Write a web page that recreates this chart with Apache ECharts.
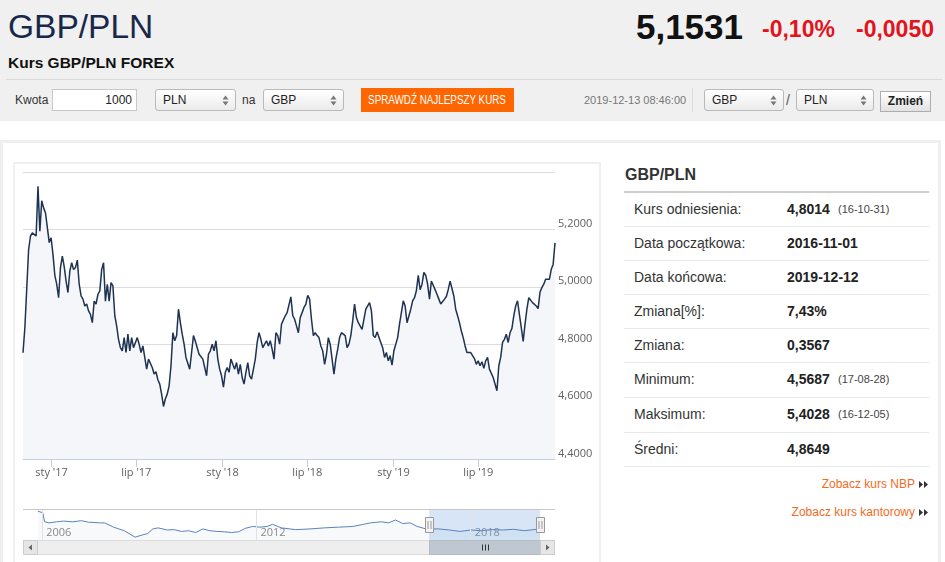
<!DOCTYPE html>
<html><head><meta charset="utf-8">
<script src="https://cdn.jsdelivr.net/npm/echarts@6/dist/echarts.min.js"></script>
<style>
html,body{margin:0;padding:0;width:945px;height:562px;overflow:hidden;background:#fff;font-family:'Liberation Sans',Arial,sans-serif;}
.a{position:absolute;white-space:nowrap;}
.sel{position:absolute;top:89px;height:22px;border:1px solid #b9b9b9;border-radius:3px;background:linear-gradient(#ffffff,#ebebeb);font-size:12px;color:#222;line-height:20px;box-sizing:border-box;padding-left:7px;}
.sel svg{position:absolute;right:6px;top:5px;}
.row{position:absolute;left:624px;width:305px;border-bottom:1px solid #e9e9e9;box-sizing:border-box;}
.lab{position:absolute;left:10px;font-size:14px;color:#333;}
.val{position:absolute;left:163px;font-size:14px;font-weight:bold;color:#222;}
.dt{position:absolute;left:214px;font-size:11px;color:#444;}
.lnk{position:absolute;right:30px;font-size:12px;color:#f26b1d;white-space:nowrap;}
.ico{position:absolute;right:16px;}
</style>
</head><body>
<div class="a" style="left:0;top:0;width:945px;height:121px;background:#f0f0f0"></div>
<div class="a" style="left:8px;top:9px;font-size:33.5px;line-height:35px;color:#17284a">GBP/PLN</div>
<div class="a" style="right:202px;top:9px;font-size:35px;line-height:35px;font-weight:bold;color:#111">5,1531</div>
<div class="a" style="left:762px;top:18px;font-size:23px;line-height:23px;font-weight:bold;color:#e3131e">-0,10%</div>
<div class="a" style="right:11px;top:18px;font-size:23px;line-height:23px;font-weight:bold;color:#e3131e">-0,0050</div>
<div class="a" style="left:8px;top:55px;font-size:15.5px;line-height:16px;font-weight:bold;color:#111">Kurs GBP/PLN FOREX</div>
<div class="a" style="left:6px;top:79px;width:936px;height:1px;background:#d9d9d9"></div>

<div class="a" style="left:15px;top:89px;line-height:22px;font-size:12px;color:#333">Kwota</div>
<div class="a" style="left:52px;top:89px;width:85px;height:22px;border:1px solid #c8c8c8;box-sizing:border-box;background:#fff;font-size:12px;line-height:20px;text-align:right;padding-right:4px;color:#222">1000</div>
<div class="sel" style="left:155px;width:81px">PLN<svg width="7" height="11"><path d="M0.5 4.5 L3.5 0.5 L6.5 4.5Z M0.5 6.5 L3.5 10.5 L6.5 6.5Z" fill="#777"/></svg></div>
<div class="a" style="left:242px;top:89px;line-height:22px;font-size:12px;color:#333">na</div>
<div class="sel" style="left:263px;width:81px">GBP<svg width="7" height="11"><path d="M0.5 4.5 L3.5 0.5 L6.5 4.5Z M0.5 6.5 L3.5 10.5 L6.5 6.5Z" fill="#777"/></svg></div>
<div class="a" style="left:361px;top:88px;width:153px;height:24px;background:#ff6600;overflow:hidden;text-align:center"><span style="display:inline-block;color:#fff;font-size:12px;line-height:24px;transform:scaleX(0.82);transform-origin:center;margin:0 -20px">SPRAWDŹ NAJLEPSZY KURS</span></div>
<div class="a" style="left:584px;top:89px;line-height:22px;font-size:11px;color:#777">2019-12-13 08:46:00</div>
<div class="a" style="left:692px;top:88px;width:1px;height:24px;background:#dcdcdc"></div>
<div class="sel" style="left:704px;width:80px">GBP<svg width="7" height="11"><path d="M0.5 4.5 L3.5 0.5 L6.5 4.5Z M0.5 6.5 L3.5 10.5 L6.5 6.5Z" fill="#777"/></svg></div>
<div class="a" style="left:786px;top:89px;line-height:22px;font-size:14px;color:#555">/</div>
<div class="sel" style="left:796px;width:78px">PLN<svg width="7" height="11"><path d="M0.5 4.5 L3.5 0.5 L6.5 4.5Z M0.5 6.5 L3.5 10.5 L6.5 6.5Z" fill="#777"/></svg></div>
<div class="a" style="left:880px;top:91px;width:51px;height:21px;border:1px solid #adadad;box-sizing:border-box;background:linear-gradient(#ffffff,#e2e2e2);font-size:12px;font-weight:bold;line-height:19px;text-align:center;color:#222">Zmień</div>

<div class="a" style="left:0;top:140px;width:941px;height:440px;border:3px solid #efefef;box-sizing:border-box"></div>
<div class="a" style="left:13px;top:162px;width:588px;height:420px;border:2px solid #f0f0f0;box-sizing:border-box"></div>

<div class="a" style="left:625px;top:166px;font-size:16px;line-height:18px;font-weight:bold;color:#333">GBP/PLN</div>
<div class="a" style="left:624px;top:191px;width:305px;height:2px;background:#cfcfcf"></div>
<div id="tbl"></div>
<div class="lnk" style="top:477px">Zobacz kurs NBP</div>
<svg class="ico" style="top:481px" width="10" height="7"><path d="M0 0 L4 3.5 L0 7Z M5 0 L9 3.5 L5 7Z" fill="#333"/></svg>
<div class="lnk" style="top:505px">Zobacz kurs kantorowy</div>
<svg class="ico" style="top:509px" width="10" height="7"><path d="M0 0 L4 3.5 L0 7Z M5 0 L9 3.5 L5 7Z" fill="#333"/></svg>

<div id="chart" style="position:absolute;left:0;top:0;width:945px;height:562px"></div>
<script>
// ---- main series (GBP/PLN, sampled every 4 days from 2016-11-01) ----
const rateValues = [
4.770,4.858,4.864,5.130,5.177,5.188,5.190,5.177,5.350,5.194,
5.300,5.275,5.258,5.206,5.154,5.171,5.113,5.040,5.009,4.962,
5.067,5.107,5.070,5.020,4.980,5.055,5.084,5.060,5.067,5.093,
5.009,4.968,4.957,4.933,4.940,4.916,4.904,4.875,4.950,4.940,
4.974,4.986,5.060,5.084,4.950,5.009,4.950,5.015,5.003,4.900,
4.864,4.817,4.788,4.777,4.823,4.771,4.835,4.777,4.823,4.788,
4.783,4.823,4.800,4.771,4.794,4.754,4.713,4.748,4.748,4.719,
4.696,4.704,4.676,4.661,4.626,4.583,4.610,4.626,4.655,4.725,
4.840,4.812,4.830,4.922,4.875,4.835,4.800,4.754,4.760,4.713,
4.771,4.830,4.810,4.806,4.765,4.771,4.748,4.742,4.690,4.765,
4.777,4.800,4.777,4.812,4.748,4.713,4.690,4.650,4.702,4.719,
4.702,4.748,4.730,4.713,4.736,4.696,4.730,4.684,4.661,4.702,
4.736,4.690,4.678,4.713,4.748,4.806,4.840,4.817,4.788,4.800,
4.812,4.794,4.812,4.783,4.748,4.840,4.830,4.800,4.870,4.864,
4.899,4.910,4.910,4.965,4.900,4.887,4.864,4.840,4.893,4.910,
4.928,4.940,4.970,4.957,4.887,4.830,4.840,4.830,4.823,4.794,
4.777,4.730,4.765,4.823,4.800,4.748,4.696,4.748,4.783,4.823,
4.840,4.835,4.830,4.788,4.800,4.830,4.881,4.940,4.893,4.875,
4.881,4.852,4.852,4.922,4.928,4.945,4.916,4.830,4.823,4.843,
4.846,4.806,4.788,4.754,4.771,4.742,4.760,4.727,4.777,4.783,
4.823,4.870,4.873,4.951,4.933,4.875,4.875,4.922,4.951,4.962,
4.986,5.040,4.990,5.009,5.050,5.040,5.009,4.957,5.020,5.020,
4.990,4.974,4.957,4.940,4.940,4.957,4.966,4.990,5.020,4.994,
4.968,4.922,4.899,4.875,4.846,4.823,4.794,4.771,4.774,4.771,
4.771,4.750,4.730,4.742,4.725,4.739,4.716,4.742,4.754,4.713,
4.707,4.684,4.680,4.638,4.725,4.754,4.806,4.817,4.835,4.806,
4.840,4.855,4.899,4.933,4.951,4.904,4.858,4.810,4.870,4.922,
4.962,4.962,4.945,4.945,4.933,4.924,4.982,4.997,5.009,5.026,
5.020,5.026,5.061,5.078,5.153
];
const startYear = 2016, startMonth = 10, startDay = 1, stepDays = 4;
function ymd(d){return d.getFullYear()+'-'+String(d.getMonth()+1).padStart(2,'0')+'-'+String(d.getDate()).padStart(2,'0');}
const rateDates = rateValues.map((v,i)=>ymd(new Date(startYear,startMonth,startDay+i*stepDays)));
const axisStart = '2016-11-01', axisEnd = '2019-12-12';
const tickDates = ['2017-01-01','2017-07-01','2018-01-01','2018-07-01','2019-01-01','2019-07-01'];
const tickLabels = ["sty '17","lip '17","sty '18","lip '18","sty '19","lip '19"];
const yMin = 4.4, yMax = 5.4, yStep = 0.2;

// ---- navigator series ----
const navDates = ['2005-11-18','2006-01-08','2006-01-26','2006-03-14','2006-05-27','2006-08-08','2006-11-07','2007-02-06','2007-04-20','2007-08-08',
'2007-10-01','2008-01-01','2008-04-20','2008-08-08','2008-10-20','2008-12-14','2009-02-06','2009-04-01','2009-07-02','2009-09-13',
'2009-11-25','2010-02-06','2010-04-20','2010-07-02','2010-09-13','2010-11-25','2011-02-06','2011-04-20','2011-07-02','2011-09-13',
'2011-11-25','2012-02-06','2012-04-20','2012-06-14','2012-09-13','2013-02-06','2013-07-02','2013-11-25','2014-04-20','2014-09-13',
'2015-01-01','2015-03-14','2015-07-02','2015-09-13','2015-11-25','2016-02-06','2016-04-20','2016-07-02','2016-10-01','2017-02-06',
'2017-05-27','2017-09-13','2018-01-01','2018-04-20','2018-08-08','2018-11-25','2019-03-14','2019-07-02','2019-11-07','2019-12-12'];
const navValues = [6.066,5.951,5.375,5.306,5.375,5.421,5.375,5.444,5.352,5.306,
5.306,5.029,4.799,4.384,4.523,4.615,4.914,4.983,4.845,4.868,
4.753,4.799,4.684,4.914,4.799,4.753,4.730,4.684,4.730,4.960,
5.075,5.029,5.075,5.213,4.983,4.868,4.914,4.983,5.029,5.075,
5.213,5.306,5.375,5.306,5.490,5.260,5.306,5.075,4.914,4.914,
4.845,4.753,4.845,4.799,4.868,4.845,4.891,4.799,4.891,4.910];
const navTickDates = ['2006-01-01','2012-01-01','2018-01-01'];
const navTickLabels = ['2006','2012','2018'];
const navStart = '2005-06-19', navEnd = '2020-05-12';
const navYMin = 4.2, navYMax = 6.2;

// ---- statistics table ----
const statLabels = ['Kurs odniesienia:','Data początkowa:','Data końcowa:','Zmiana[%]:','Zmiana:','Minimum:','Maksimum:','Średni:'];
const statValues = ['4,8014','2016-11-01','2019-12-12','7,43%','0,3567','4,5687','5,4028','4,8649'];
const statDates = ['(16-10-31)','','','','','(17-08-28)','(16-12-05)',''];

const rowTops = [193,226,260,294,328,362,397,432];
const tbl = document.getElementById('tbl');
statLabels.forEach((l,i)=>{
  const top = rowTops[i], h = (i<7?rowTops[i+1]:466) - top + 1;
  const r = document.createElement('div');
  r.className='row'; r.style.top=top+'px'; r.style.height=h+'px';
  const lh = (h-1)+'px';
  r.innerHTML = '<div class="lab" style="line-height:'+lh+'">'+l+'</div><div class="val" style="line-height:'+lh+'">'+statValues[i]+'</div>'+
    (statDates[i]?'<div class="dt" style="line-height:'+lh+'">'+statDates[i]+'</div>':'');
  tbl.appendChild(r);
});

function toTime(s){const p=s.split('-').map(Number);return new Date(p[0],p[1]-1,p[2]).getTime();}
const tickTimes = tickDates.map(toTime);
const navTickTimes = navTickDates.map(toTime);
function nearestLabel(val, times, labels){let b=0;times.forEach((t,i)=>{if(Math.abs(t-val)<Math.abs(times[b]-val))b=i;});return labels[b];}

const G = {left:23, top:172, width:532, height:287};
const N = {left:23, top:509, width:532, height:31};

const chart = echarts.init(document.getElementById('chart'));
chart.setOption({
  animation:false,
  grid:[{left:G.left, top:G.top, width:G.width, height:G.height},{left:N.left, top:N.top, width:N.width, height:N.height}],
  xAxis:[
    {type:'value', gridIndex:0, min:toTime(axisStart), max:toTime(axisEnd),
     axisLine:{lineStyle:{color:'#c0d0e0'}},
     axisTick:{customValues:tickTimes, length:8, lineStyle:{color:'#c0d0e0'}},
     axisLabel:{customValues:tickTimes, formatter:v=>nearestLabel(v,tickTimes,tickLabels), color:'#606060', fontSize:11, fontFamily:'Open Sans', margin:8},
     splitLine:{show:false}},
    {type:'value', gridIndex:1, min:toTime(navStart), max:toTime(navEnd),
     axisLine:{show:false}, axisTick:{show:false, customValues:navTickTimes}, splitLine:{show:false},
     axisLabel:{customValues:navTickTimes, inside:true, formatter:v=>nearestLabel(v,navTickTimes,navTickLabels), align:'left', padding:[0,0,0,4], color:'#8a8a8a', fontSize:11, fontFamily:'Open Sans', margin:2}}
  ],
  yAxis:[
    {type:'value', gridIndex:0, position:'right', min:yMin, max:yMax, interval:yStep,
     axisLine:{show:false}, axisTick:{show:false},
     splitLine:{lineStyle:{color:'#dcdcdc'}},
     axisLabel:{formatter:v=>Math.abs(v-yMax)<1e-6?'':v.toFixed(4).replace('.',','), color:'#606060', fontSize:11, fontFamily:'Open Sans', margin:3, verticalAlign:'bottom', align:'left'}},
    {type:'value', gridIndex:1, min:navYMin, max:navYMax, show:false}
  ],
  series:[
    {type:'line', xAxisIndex:0, yAxisIndex:0, showSymbol:false, data:rateDates.map((d,i)=>[toTime(d),rateValues[i]]),
     lineStyle:{color:'#1e3252', width:1.5}, areaStyle:{color:'#f4f6f9', opacity:1, origin:'start'}, z:3},
    {type:'line', xAxisIndex:1, yAxisIndex:1, showSymbol:false, data:navDates.map((d,i)=>[toTime(d),navValues[i]]),
     lineStyle:{color:'#5a82bd', width:1}, areaStyle:{color:'rgba(69,114,167,0.06)', origin:'start'},
     markArea:{silent:true, itemStyle:{color:'rgba(110,160,225,0.28)'}, data:[[{xAxis:toTime(axisStart)},{xAxis:toTime(axisEnd)}]]},
     markLine:{silent:true, symbol:['none','none'], label:{show:false}, lineStyle:{color:'#e2e2e2', type:'solid', width:1}, data:navTickTimes.map(t=>({xAxis:t}))}}
  ]
});

const xs = chart.convertToPixel({xAxisIndex:1}, toTime(axisStart));
const xe = chart.convertToPixel({xAxisIndex:1}, toTime(axisEnd));
const sbY = N.top + N.height, sbH = 15, L = N.left, R = N.left + N.width;
const gfx = [
  {type:'line', shape:{x1:L, y1:N.top+0.5, x2:R, y2:N.top+0.5}, style:{stroke:'#c8c8c8', lineWidth:1}},
  {type:'rect', shape:{x:L+0.5, y:sbY+0.5, width:N.width-1, height:sbH-1}, style:{fill:'#eeeeee', stroke:'#dcdcdc'}},
  {type:'rect', shape:{x:Math.round(xs)+0.5, y:sbY+0.5, width:xe-xs, height:sbH-1}, style:{fill:'#bfc8d1', stroke:'#b3bbc4'}},
  {type:'rect', shape:{x:L+0.5, y:sbY+0.5, width:14, height:sbH-1}, style:{fill:'#e6e6e6', stroke:'#cccccc'}},
  {type:'polygon', shape:{points:[[L+9,sbY+4.5],[L+9,sbY+10.5],[L+5.5,sbY+7.5]]}, style:{fill:'#666'}},
  {type:'rect', shape:{x:R-14.5, y:sbY+0.5, width:14, height:sbH-1}, style:{fill:'#e6e6e6', stroke:'#cccccc'}},
  {type:'polygon', shape:{points:[[R-9,sbY+4.5],[R-9,sbY+10.5],[R-5.5,sbY+7.5]]}, style:{fill:'#666'}}
];
const cx = Math.round((xs+xe)/2)+0.5;
[-3,0,3].forEach(o=>gfx.push({type:'line', shape:{x1:cx+o, y1:sbY+4.5, x2:cx+o, y2:sbY+10.5}, style:{stroke:'#333', lineWidth:1}}));
[xs,xe].forEach(x=>{
  const hx = Math.round(x)+0.5;
  gfx.push({type:'rect', shape:{x:hx-4, y:N.top+8.5, width:8, height:15}, style:{fill:'#f2f2f2', stroke:'#999'}});
  gfx.push({type:'line', shape:{x1:hx-1.5, y1:N.top+12, x2:hx-1.5, y2:N.top+20}, style:{stroke:'#999', lineWidth:1}});
  gfx.push({type:'line', shape:{x1:hx+1.5, y1:N.top+12, x2:hx+1.5, y2:N.top+20}, style:{stroke:'#999', lineWidth:1}});
});
chart.setOption({graphic:gfx.map(g=>Object.assign({silent:true, z:10}, g))});
</script>
</body></html>
